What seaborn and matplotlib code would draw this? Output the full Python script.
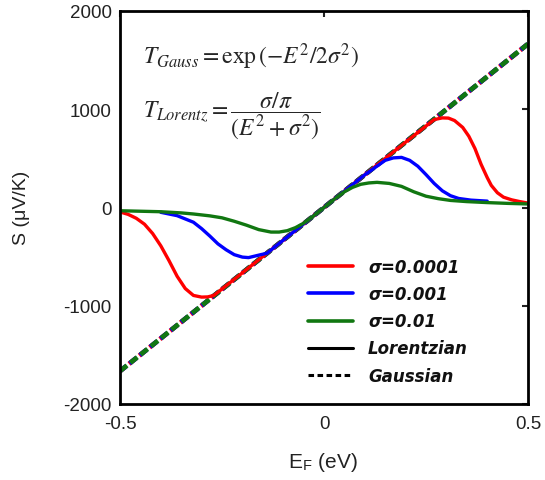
import numpy as np
import pandas as pd
import matplotlib
matplotlib.use("Agg")
import matplotlib.pyplot as plt
from matplotlib.lines import Line2D
import seaborn as sns

sns.set_theme(style="white")
plt.rcParams['font.family'] = ['Liberation Sans', 'DejaVu Sans']
plt.rcParams['mathtext.fontset'] = 'stix'
plt.rcParams['lines.scale_dashes'] = False

# ---- data ----
red_E = [-0.50, -0.48, -0.46, -0.44, -0.42, -0.40, -0.38, -0.36, -0.34, -0.32, -0.30, -0.285, -0.27,
         -0.20, -0.10, 0.00, 0.10, 0.20, 0.27, 0.29, 0.305, 0.32, 0.34, 0.355, 0.37, 0.385, 0.40,
         0.41, 0.425, 0.44, 0.46, 0.48, 0.50]
red_S = [-45, -70, -110, -170, -265, -390, -540, -700, -825, -895, -912, -910, -895,
         -665, -333, 0, 333, 665, 895, 912, 910, 885, 815, 725, 600, 440, 305,
         225, 150, 105, 78, 60, 45]

blue_E = [-0.40, -0.36, -0.32, -0.30, -0.28, -0.26, -0.24, -0.22, -0.20, -0.185, -0.17, -0.155, -0.14,
          -0.10, 0.00, 0.10, 0.15, 0.17, 0.19, 0.21, 0.23, 0.25, 0.27, 0.29, 0.31, 0.33, 0.36, 0.40]
blue_S = [-49, -83, -150, -215, -290, -370, -430, -480, -505, -510, -495, -480, -466,
          -333, 0, 333, 480, 505, 510, 480, 420, 335, 245, 170, 120, 92, 75, 65]

green_E = [-0.50, -0.45, -0.40, -0.35, -0.32, -0.28, -0.25, -0.22, -0.19, -0.16, -0.13, -0.11, -0.09,
           -0.07, -0.05, -0.03, 0.00, 0.03, 0.05, 0.07, 0.09, 0.11, 0.13, 0.16, 0.19, 0.22, 0.25,
           0.28, 0.31, 0.35, 0.40, 0.45, 0.50]
green_S = [-33, -38, -43, -55, -66, -85, -105, -140, -180, -225, -250, -250, -236,
           -205, -160, -100, 0, 100, 160, 205, 236, 250, 256, 245, 215, 160, 115,
           90, 72, 60, 50, 42, 36]

gauss_E = [-0.50, 0.50]
gauss_S = [-1665, 1665]

labels = ['σ=0.0001', 'σ=0.001', 'σ=0.01']
colors = ['#ff0000', '#0000ff', '#117711']

fig = plt.figure(figsize=(5.45, 4.81), dpi=100)
ax = fig.add_axes([120/545, 1-405/481, (528-120)/545, (405-12)/481])

solid = [(red_E, red_S), (blue_E, blue_S), (green_E, green_S)]
# Gaussian dashed lines (overlapping, slightly offset)
offsets = [1.2, 0.6, 0.0]
for c, off in zip(colors, offsets):
    df = pd.DataFrame({'E': gauss_E, 'S': gauss_S})
    sns.lineplot(data=df, x='E', y='S', ax=ax, color=c, lw=3.4,
                 estimator=None, sort=False)
    ln = ax.lines[-1]
    ln.set_linestyle((off, (6.5, 3.0)))
    ln.set_dash_capstyle('butt')
# Lorentzian solid lines
for (E, S), c in zip(solid, colors):
    df = pd.DataFrame({'E': E, 'S': S})
    sns.lineplot(data=df, x='E', y='S', ax=ax, color=c, lw=2.4,
                 estimator=None, sort=False)

ax.set_xlim(-0.5, 0.5)
ax.set_ylim(-2000, 2000)
ax.set_xticks([-0.5, 0, 0.5])
ax.set_xticklabels(['-0.5', '0', '0.5'])
ax.set_yticks([-2000, -1000, 0, 1000, 2000])
ax.set_yticklabels(['-2000', '-1000', '0', '1000', '2000'])
ax.tick_params(direction='in', length=4, width=1.5, top=True, right=True,
               labelsize=13.5, colors='#222222', pad=6)
ax.tick_params(axis='x', pad=8)
for s in ax.spines.values():
    s.set_linewidth(2)
    s.set_color('black')
ax.set_xlabel('')
ax.set_ylabel('')
fig.text(22/545, 1-208/481, 'S (μV/K)', rotation=90, ha='center', va='center',
         fontsize=14, color='#222222')
fig.text(323/545, 1-462/481, r'E$_\mathregular{F}$ (eV)', ha='center', va='center',
         fontsize=15, color='#222222')

# formulas
fig.text(143/545, 1-57/481, r'$T_{Gauss} = \exp\left(-E^2/2\sigma^2\right)$',
         ha='left', va='center', fontsize=17)
fig.text(143/545, 1-116/481, r'$T_{Lorentz} = \dfrac{\sigma/\pi}{\left(E^2+\sigma^2\right)}$',
         ha='left', va='center', fontsize=17)

handles = [Line2D([], [], color=c, lw=2.6) for c in colors]
handles += [Line2D([], [], color='black', lw=2.2),
            Line2D([], [], color='black', lw=2.2, ls=(0, (4, 2.5)))]
leg = ax.legend(handles, labels + ['Lorentzian', 'Gaussian'], loc='upper left',
                bbox_to_anchor=((308-120)/408, (405-259)/393), frameon=False,
                borderaxespad=0, borderpad=0, handlelength=2.7,
                handletextpad=0.9, labelspacing=0.55,
                prop={'family': 'DejaVu Sans', 'style': 'italic', 'weight': 'bold', 'size': 12})
for t in leg.get_texts():
    t.set_color('#111111')

fig.savefig('out.png', dpi=100)
